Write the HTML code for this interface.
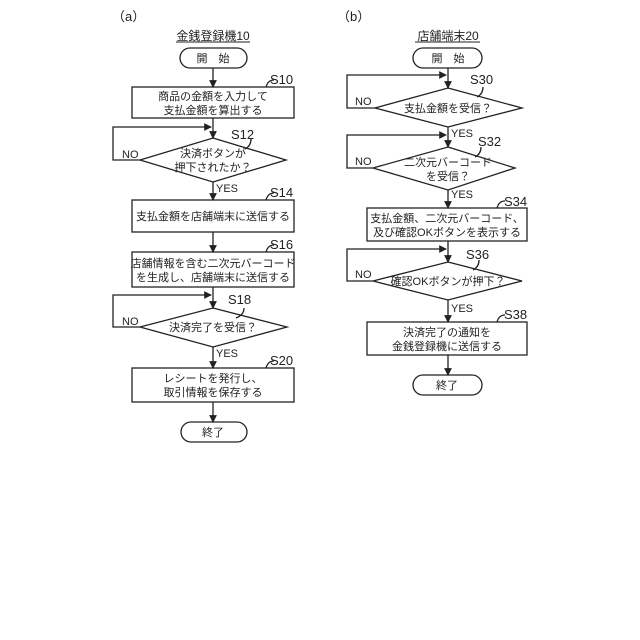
<!DOCTYPE html>
<html><head><meta charset="utf-8"><style>
html,body{margin:0;padding:0;background:#fff;}
svg{display:block;}
text{font-family:"Liberation Sans","Noto Sans CJK JP",sans-serif;fill:#222;}
.t{font-size:11px;text-anchor:middle;}
.s{font-size:13px;}
.y{font-size:11px;}
</style></head><body>
<svg width="640" height="640" viewBox="0 0 640 640" xmlns="http://www.w3.org/2000/svg">
<defs><marker id="a" viewBox="0 0 8 8" refX="7" refY="4" markerWidth="6" markerHeight="6" orient="auto"><path d="M0,0L8,4L0,8z" fill="#222"/></marker></defs>
<g stroke="#222" stroke-width="1.3" fill="none">
<!-- Left -->
<rect x="180" y="48" width="67" height="20" rx="10"/>
<line x1="213" y1="68" x2="213" y2="87" marker-end="url(#a)"/>
<rect x="132" y="87" width="162" height="31"/>
<line x1="213" y1="118" x2="213" y2="138" marker-end="url(#a)"/>
<polygon points="213,138 286,160 213,182 140,160"/>
<polyline points="140,160 113,160 113,127 211,127" marker-end="url(#a)"/>
<line x1="213" y1="182" x2="213" y2="200" marker-end="url(#a)"/>
<rect x="132" y="200" width="162" height="32"/>
<line x1="213" y1="232" x2="213" y2="252" marker-end="url(#a)"/>
<rect x="132" y="252" width="162" height="35"/>
<line x1="213" y1="287" x2="213" y2="308" marker-end="url(#a)"/>
<polygon points="213,308 287,327 213,347 140,327"/>
<polyline points="140,327 113,327 113,295 211,295" marker-end="url(#a)"/>
<line x1="213" y1="347" x2="213" y2="368" marker-end="url(#a)"/>
<rect x="132" y="368" width="162" height="34"/>
<line x1="213" y1="402" x2="213" y2="422" marker-end="url(#a)"/>
<rect x="181" y="422" width="66" height="20" rx="10"/>
<line x1="176" y1="42" x2="250" y2="42" stroke-width="1"/>
<path d="M266,87 q2,-7 8,-7"/><path d="M266,200 q2,-7 8,-7"/><path d="M266,252 q2,-7 8,-7"/><path d="M266,368 q2,-7 8,-7"/>
<path d="M245,149 q6,-3 6,-10"/><path d="M236,318 q8,-3 8,-10"/>
<!-- Right -->
<rect x="413" y="48" width="69" height="20" rx="10"/>
<line x1="448" y1="68" x2="448" y2="88" marker-end="url(#a)"/>
<polygon points="448,88 522,108 448,127 375,108"/>
<polyline points="375,108 347,108 347,75 446,75" marker-end="url(#a)"/>
<line x1="448" y1="127" x2="448" y2="147" marker-end="url(#a)"/>
<polygon points="448,147 515,168 448,190 373,168"/>
<polyline points="373,168 347,168 347,135 446,135" marker-end="url(#a)"/>
<line x1="448" y1="190" x2="448" y2="208" marker-end="url(#a)"/>
<rect x="367" y="208" width="160" height="33"/>
<line x1="448" y1="241" x2="448" y2="262" marker-end="url(#a)"/>
<polygon points="448,262 522,281 448,300 373,281"/>
<polyline points="373,281 347,281 347,249 446,249" marker-end="url(#a)"/>
<line x1="448" y1="300" x2="448" y2="322" marker-end="url(#a)"/>
<rect x="367" y="322" width="160" height="33"/>
<line x1="448" y1="355" x2="448" y2="375" marker-end="url(#a)"/>
<rect x="413" y="375" width="69" height="20" rx="10"/>
<line x1="415" y1="42" x2="480" y2="42" stroke-width="1"/>
<path d="M477,97 q6,-3 6,-10"/><path d="M475,157 q6,-3 6,-10"/><path d="M497,208 q2,-7 8,-7"/><path d="M473,270 q6,-3 6,-10"/><path d="M497,322 q2,-7 8,-7"/>
</g>
<text x="112" y="21" class="s">（a）</text>
<text x="337" y="21" class="s">（b）</text>
<text x="213" y="40" class="t" style="font-size:12px">金銭登録機10</text>
<text x="448" y="40" class="t" style="font-size:12px">店舗端末20</text>
<text x="213" y="62" class="t">開　始</text>
<text x="270" y="84" class="s">S10</text>
<text x="213" y="100" class="t">商品の金額を入力して</text>
<text x="213" y="114" class="t">支払金額を算出する</text>
<text x="231" y="139" class="s">S12</text>
<text x="122" y="158" class="y">NO</text>
<text x="213" y="157" class="t">決済ボタンが</text>
<text x="213" y="171" class="t">押下されたか？</text>
<text x="216" y="192" class="y">YES</text>
<text x="270" y="197" class="s">S14</text>
<text x="213" y="220" class="t">支払金額を店舗端末に送信する</text>
<text x="270" y="249" class="s">S16</text>
<text x="213" y="267" class="t">店舗情報を含む二次元バーコード</text>
<text x="213" y="281" class="t">を生成し、店舗端末に送信する</text>
<text x="228" y="304" class="s">S18</text>
<text x="122" y="325" class="y">NO</text>
<text x="213" y="331" class="t">決済完了を受信？</text>
<text x="216" y="357" class="y">YES</text>
<text x="270" y="365" class="s">S20</text>
<text x="213" y="382" class="t">レシートを発行し、</text>
<text x="213" y="396" class="t">取引情報を保存する</text>
<text x="213" y="436" class="t">終了</text>
<text x="448" y="62" class="t">開　始</text>
<text x="470" y="84" class="s">S30</text>
<text x="355" y="105" class="y">NO</text>
<text x="448" y="112" class="t">支払金額を受信？</text>
<text x="451" y="137" class="y">YES</text>
<text x="478" y="146" class="s">S32</text>
<text x="355" y="165" class="y">NO</text>
<text x="448" y="166" class="t">二次元バーコード</text>
<text x="448" y="180" class="t">を受信？</text>
<text x="451" y="198" class="y">YES</text>
<text x="504" y="206" class="s">S34</text>
<text x="447" y="222" class="t">支払金額、二次元バーコード、</text>
<text x="447" y="236" class="t">及び確認OKボタンを表示する</text>
<text x="466" y="259" class="s">S36</text>
<text x="355" y="278" class="y">NO</text>
<text x="448" y="285" class="t">確認OKボタンが押下？</text>
<text x="451" y="312" class="y">YES</text>
<text x="504" y="319" class="s">S38</text>
<text x="447" y="336" class="t">決済完了の通知を</text>
<text x="447" y="350" class="t">金銭登録機に送信する</text>
<text x="447" y="389" class="t">終了</text>
</svg>
</body></html>
